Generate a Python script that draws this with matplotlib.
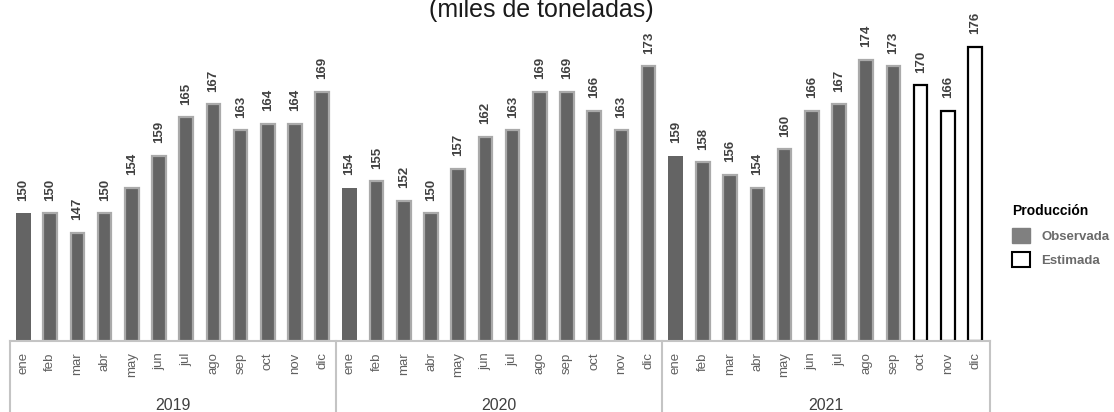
import matplotlib
matplotlib.use("Agg")
import matplotlib.pyplot as plt
from matplotlib.patches import Patch
import numpy as np

plt.rcParams['font.family'] = ['Liberation Sans', 'DejaVu Sans']

years = ["2019", "2020", "2021"]
months = ["ene", "feb", "mar", "abr", "may", "jun", "jul", "ago", "sep", "oct", "nov", "dic"]
prod_2019 = [150, 150, 147, 150, 154, 159, 165, 167, 163, 164, 164, 169]
prod_2020 = [154, 155, 152, 150, 157, 162, 163, 169, 169, 166, 163, 173]
prod_2021 = [159, 158, 156, 154, 160, 166, 167, 174, 173, 170, 166, 176]
estimated_2021 = [False] * 9 + [True] * 3

values = prod_2019 + prod_2020 + prod_2021
estimated = [False] * 24 + estimated_2021
labels = months * 3
n = len(values)
x = np.arange(n)

W, H = 1114, 412
fig = plt.figure(figsize=(W / 100, H / 100), dpi=100)
ax = fig.add_axes([10 / W, 1 - 341 / H, 980 / W, 341 / H])
ymin = 130.1
ax.set_xlim(-0.48, n - 1 + 0.55)
ax.set_ylim(ymin, 183.3)
ax.axis('off')

obs_fill = '#646464'
obs_edge = '#aaaaaa'
for i, (xi, v, est) in enumerate(zip(x, values, estimated)):
    if est:
        ax.bar(xi, v - ymin, bottom=ymin, width=0.5, facecolor='white',
               edgecolor='black', linewidth=1.6)
    else:
        first = (i % 12 == 0)
        ax.bar(xi, v - ymin, bottom=ymin, width=0.5 if not first else 0.55,
               facecolor=obs_fill,
               edgecolor='none' if first else obs_edge,
               linewidth=0 if first else 1.6)
    ax.annotate(str(v), (xi, v), xytext=(0, 9), textcoords='offset points',
                rotation=90, ha='center', va='bottom', fontsize=9.5,
                fontweight='bold', color='#404040')

# category axis box
trans = ax.get_xaxis_transform()
line_kw = dict(color='#c4c4c4', linewidth=1.5, transform=trans, clip_on=False)
left, right = -0.48, n - 1 + 0.55
ax.plot([left, right], [0, 0], **line_kw)
for b in [left, 11.5, 23.5, right]:
    ax.plot([b, b], [0, -0.25], **line_kw)
for xi, lab in zip(x, labels):
    ax.text(xi, -0.033, lab, transform=trans, rotation=90, ha='center', va='top',
            fontsize=9.5, color='#606060')
for k, yr in enumerate(years):
    ax.text(12 * k + 5.5, -0.19, yr, transform=trans, ha='center', va='center',
            fontsize=11.5, color='#404040')

fig.text(541 / W, 1 - 17 / H, "(miles de toneladas)", ha='center', va='baseline',
         fontsize=18, color='#1a1a1a')

handles = [Patch(facecolor='#808080', edgecolor='#808080', label='Observada'),
           Patch(facecolor='white', edgecolor='black', linewidth=1.5, label='Estimada')]
leg = fig.legend(handles=handles, title='Producción', loc='upper left',
                 bbox_to_anchor=(1000 / W, 1 - 192 / H), frameon=False,
                 fontsize=9.5, title_fontsize=10, handlelength=1.35, handleheight=1.35,
                 handletextpad=0.9, labelspacing=0.75, alignment='left')
leg.get_title().set_fontweight('bold')
for t in leg.get_texts():
    t.set_color('#6a6a6a')
    t.set_fontweight('bold')

fig.savefig('out.png', dpi=100)
